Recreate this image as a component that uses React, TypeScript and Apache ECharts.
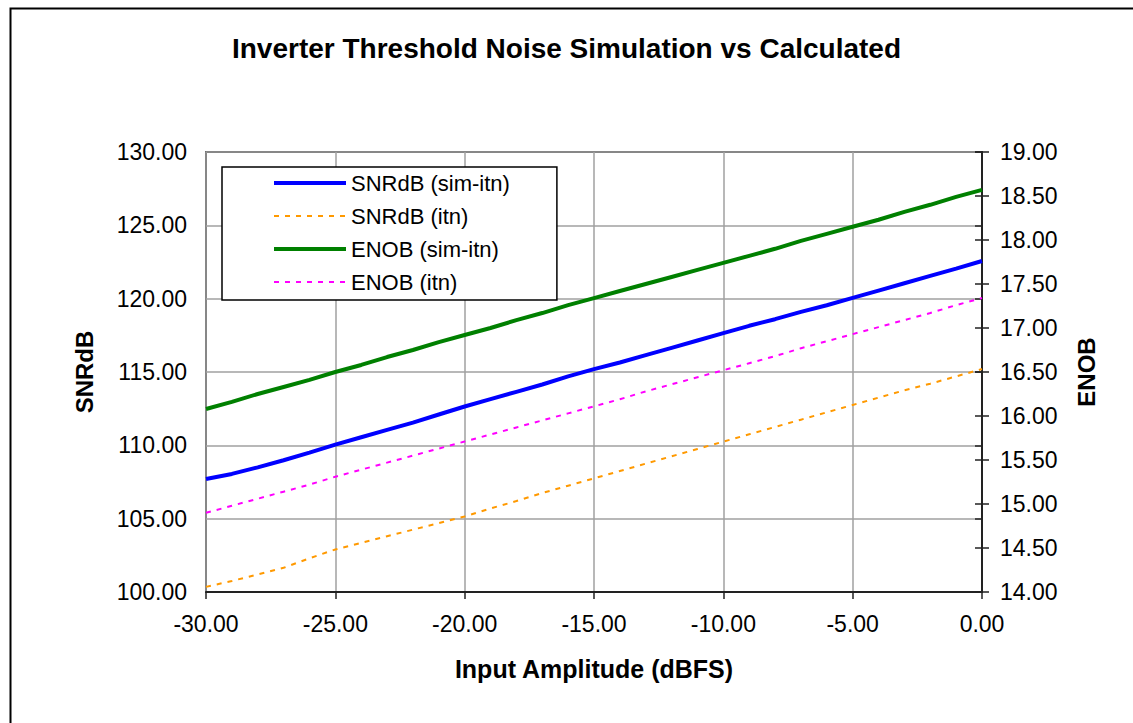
import React, { useEffect, useRef } from "react";
import * as echarts from "echarts";

const titleText = "Inverter Threshold Noise Simulation vs Calculated";
const xAxisTitle = "Input Amplitude (dBFS)";
const leftAxisTitle = "SNRdB";
const rightAxisTitle = "ENOB";
const seriesNames = ["SNRdB (sim-itn)", "SNRdB (itn)", "ENOB (sim-itn)", "ENOB (itn)"];

const inputAmplitude = [
  -30, -29, -28, -27, -26, -25, -24, -23, -22, -21, -20, -19, -18, -17, -16, -15,
  -14, -13, -12, -11, -10, -9, -8, -7, -6, -5, -4, -3, -2, -1, 0,
];

const snrSimItn = [
  107.7, 108.05, 108.5, 108.98, 109.5, 110.05, 110.55, 111.05, 111.55, 112.1, 112.65,
  113.15, 113.65, 114.15, 114.7, 115.2, 115.65, 116.15, 116.65, 117.15, 117.65,
  118.15, 118.6, 119.1, 119.55, 120.05, 120.55, 121.05, 121.55, 122.05, 122.57,
];

const snrItn = [
  100.35, 100.75, 101.2, 101.65, 102.3, 102.9, 103.35, 103.8, 104.25, 104.7, 105.15,
  105.7, 106.2, 106.75, 107.25, 107.75, 108.25, 108.75, 109.25, 109.75, 110.25,
  110.75, 111.25, 111.75, 112.25, 112.75, 113.25, 113.75, 114.2, 114.7, 115.2,
];

const enobSimItn = [
  16.08, 16.16, 16.25, 16.33, 16.41, 16.5, 16.58, 16.67, 16.75, 16.84, 16.92,
  17.0, 17.09, 17.17, 17.26, 17.34, 17.42, 17.5, 17.58, 17.66, 17.74,
  17.82, 17.9, 17.99, 18.07, 18.15, 18.23, 18.32, 18.4, 18.49, 18.57,
];

const enobItn = [
  14.9, 14.98, 15.06, 15.14, 15.22, 15.31, 15.39, 15.47, 15.55, 15.63, 15.71,
  15.79, 15.87, 15.95, 16.03, 16.11, 16.19, 16.28, 16.36, 16.44, 16.52,
  16.6, 16.68, 16.77, 16.85, 16.93, 17.01, 17.09, 17.17, 17.26, 17.34,
];

const seriesColors = ["#0000ff", "#ff9900", "#008000", "#ff00ff"];

const FONT = "Liberation Sans, Arial, sans-serif";

function pairs(ys: number[]) {
  return inputAmplitude.map((x, i) => [x, ys[i]]);
}

export default function App() {
  const ref = useRef<HTMLDivElement>(null);
  useEffect(() => {
    if (!ref.current) return;
    const chart = echarts.init(ref.current, null, { renderer: "svg" });
    const fmt = (v: number) => v.toFixed(2);
    const gridLine = { show: true, lineStyle: { color: "#a0a0a0", width: 1.5 } };
    const solid = (i: number) => ({ color: seriesColors[i], width: 4 });
    const dashed = (i: number) => ({ color: seriesColors[i], width: 2, type: [5, 6] });
    const styles = [solid(0), dashed(1), solid(2), dashed(3)];
    chart.setOption({
      animation: false,
      backgroundColor: "#ffffff",
      textStyle: { fontFamily: FONT },
      title: {
        text: titleText,
        left: "center",
        top: 29,
        itemGap: 0,
        textStyle: { fontFamily: FONT, fontSize: 28, fontWeight: "bold", color: "#000" },
      },
      grid: {
        left: 206,
        right: 151,
        top: 152,
        bottom: 131,
        show: true,
        borderColor: "#000",
        borderWidth: 1.5,
        backgroundColor: "transparent",
      },
      legend: {
        orient: "vertical",
        left: 222,
        top: 167,
        padding: [5, 47, 7, 50],
        itemWidth: 72,
        itemHeight: 12,
        itemGap: 11,
        backgroundColor: "#ffffff",
        borderColor: "#000",
        borderWidth: 1.5,
        align: "left",
        itemStyle: { opacity: 0 },
        textStyle: { fontFamily: FONT, fontSize: 22, color: "#000", lineHeight: 22 },
        data: seriesNames.map((name, i) => ({
          name,
          itemStyle: { opacity: 0 },
          lineStyle: { color: styles[i].color, width: styles[i].width, type: (styles[i] as any).type || "solid" },
        })),
      },
      xAxis: [
        {
          type: "value",
          min: -30,
          max: 0,
          interval: 5,
          name: xAxisTitle,
          nameLocation: "middle",
          nameGap: 64,
          nameTextStyle: { fontFamily: FONT, fontSize: 25, fontWeight: "bold", color: "#000" },
          axisLine: { show: true, onZero: false, lineStyle: { color: "#222", width: 2 } },
          axisTick: { show: true, length: 7, lineStyle: { color: "#222", width: 1.5 } },
          axisLabel: { formatter: fmt, fontSize: 23, color: "#000", margin: 20, fontFamily: FONT },
          splitLine: gridLine,
        },
      ],
      yAxis: [
        {
          type: "value",
          position: "left",
          min: 100,
          max: 130,
          interval: 5,
          name: leftAxisTitle,
          nameLocation: "middle",
          nameRotate: 90,
          nameGap: 110,
          nameTextStyle: { fontFamily: FONT, fontSize: 24, fontWeight: "bold", color: "#000" },
          axisLine: { show: true, lineStyle: { color: "#222", width: 2 } },
          axisTick: { show: true, length: 7, lineStyle: { color: "#222", width: 1.5 } },
          axisLabel: { formatter: fmt, fontSize: 23, color: "#000", margin: 19, fontFamily: FONT },
          splitLine: gridLine,
        },
        {
          type: "value",
          position: "right",
          min: 14,
          max: 19,
          interval: 0.5,
          name: rightAxisTitle,
          nameLocation: "middle",
          nameRotate: 90,
          nameGap: 92,
          nameTextStyle: { fontFamily: FONT, fontSize: 24, fontWeight: "bold", color: "#000" },
          axisLine: { show: true, lineStyle: { color: "#222", width: 2 } },
          axisTick: { show: true, length: 7, lineStyle: { color: "#222", width: 1.5 } },
          axisLabel: { formatter: fmt, fontSize: 23, color: "#000", margin: 18, fontFamily: FONT },
          splitLine: { show: false },
        },
        {
          type: "value",
          position: "right",
          min: 14,
          max: 19,
          interval: 0.5,
          axisLine: { show: false },
          axisTick: { show: true, inside: true, length: 7, lineStyle: { color: "#222", width: 1.5 } },
          axisLabel: { show: false },
          splitLine: { show: false },
        },
      ],
      series: [
        {
          name: seriesNames[0],
          type: "line",
          yAxisIndex: 0,
          data: pairs(snrSimItn),
          symbol: "none",
          lineStyle: styles[0],
          itemStyle: { color: seriesColors[0] },
        },
        {
          name: seriesNames[1],
          type: "line",
          yAxisIndex: 0,
          data: pairs(snrItn),
          symbol: "none",
          lineStyle: styles[1],
          itemStyle: { color: seriesColors[1] },
        },
        {
          name: seriesNames[2],
          type: "line",
          yAxisIndex: 1,
          data: pairs(enobSimItn),
          symbol: "none",
          lineStyle: styles[2],
          itemStyle: { color: seriesColors[2] },
        },
        {
          name: seriesNames[3],
          type: "line",
          yAxisIndex: 1,
          data: pairs(enobItn),
          symbol: "none",
          lineStyle: styles[3],
          itemStyle: { color: seriesColors[3] },
        },
      ],
      graphic: [
        {
          type: "rect",
          left: 8,
          top: 6,
          shape: { x: 0, y: 0, width: 1300, height: 900 },
          style: { fill: "none", stroke: "#000", lineWidth: 2 },
          silent: true,
        },
      ],
    });
    return () => chart.dispose();
  }, []);
  return (
    <div
      ref={ref}
      style={{ position: "fixed", left: 0, top: 0, width: 1133, height: 723, background: "#fff" }}
    />
  );
}
